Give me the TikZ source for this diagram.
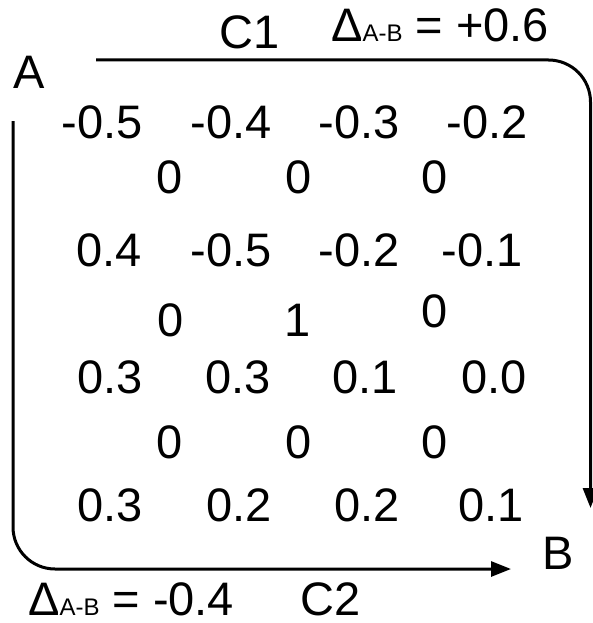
\documentclass[tikz,border=0pt]{standalone}
\usepackage{fontspec}
\setmainfont{Liberation Sans}
\usetikzlibrary{arrows.meta}
\newcommand\dsub[1]{{\fontsize{24}{28}\selectfont #1}}
\begin{document}
\begin{tikzpicture}[x=1pt,y=-1pt,
  lbl/.style={inner sep=0pt, font=\fontsize{47}{56}\selectfont},
  conn/.style={line width=3pt, rounded corners=42pt, -{Triangle[length=20pt,width=15pt]}}]
\useasboundingbox (0,0) rectangle (592,623);
% end labels
\node[lbl] (A) at (29,72) {A};
\node[lbl] (B) at (558,553) {B};
\node[lbl] (C1) at (250,32) {C1};
\node[lbl, anchor=base west] (D1) at (331,42) {Δ\dsub{A-B} = +0.6};
\node[lbl, anchor=base west] (D2) at (28,615) {Δ\dsub{A-B} = -0.4};
\node[lbl] (C2) at (331,599) {C2};
% row 1
\node[lbl] (r1a) at (102,122) {-0.5};
\node[lbl] (r1b) at (231,122) {-0.4};
\node[lbl] (r1c) at (359,122) {-0.3};
\node[lbl] (r1d) at (487,122) {-0.2};
\node[lbl] (z1a) at (170,177.5) {0};
\node[lbl] (z1b) at (299,177.5) {0};
\node[lbl] (z1c) at (435,177.5) {0};
% row 2
\node[lbl] (r2a) at (109,250) {0.4};
\node[lbl] (r2b) at (231,250) {-0.5};
\node[lbl] (r2c) at (359,250) {-0.2};
\node[lbl] (r2d) at (482,250) {-0.1};
\node[lbl] (z2a) at (171,320) {0};
\node[lbl] (z2b) at (298,320) {1};
\node[lbl] (z2c) at (435,311) {0};
% row 3
\node[lbl] (r3a) at (110,377) {0.3};
\node[lbl] (r3b) at (238,377) {0.3};
\node[lbl] (r3c) at (365,377) {0.1};
\node[lbl] (r3d) at (494,377) {0.0};
\node[lbl] (z3a) at (170,442) {0};
\node[lbl] (z3b) at (299,442) {0};
\node[lbl] (z3c) at (435,442) {0};
% row 4
\node[lbl] (r4a) at (110,505) {0.3};
\node[lbl] (r4b) at (239,505) {0.2};
\node[lbl] (r4c) at (367,505) {0.2};
\node[lbl] (r4d) at (491,505) {0.1};
% connectors
\coordinate (c1s) at (96,60);
\coordinate (c1e) at (590.5,508);
\coordinate (c2s) at (13,121);
\coordinate (c2e) at (511,569);
\draw[conn] (c1s) -- (c1s -| c1e) -- (c1e);
\draw[conn] (c2s) -- (c2s |- c2e) -- (c2e);
\end{tikzpicture}
\end{document}
